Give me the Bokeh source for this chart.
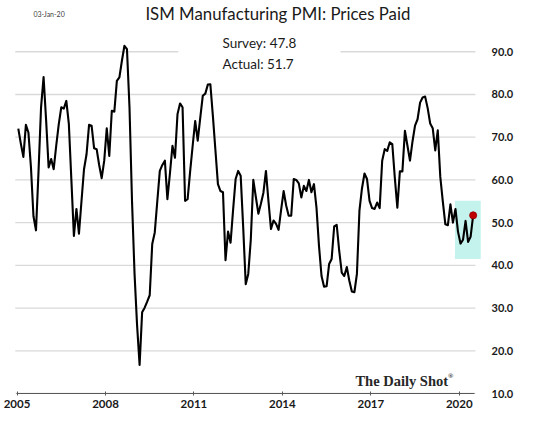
from bokeh.plotting import figure
from bokeh.models import ColumnDataSource, FixedTicker, NumeralTickFormatter, Label
from bokeh.embed import file_html
from bokeh.resources import INLINE

# ---------------- data ----------------
# ISM Manufacturing PMI: Prices Paid, monthly, Dec 2004 .. Dec 2019
first_month = "2004-12"
prices_paid = [
    72.0, 68.5, 65.4, 72.9, 71.1, 63.0, 51.5, 48.2, 62.0, 77.0,
    84.1, 74.0, 62.9, 64.9, 62.5, 68.0, 73.0, 77.0, 76.7, 78.5,
    73.1, 60.0, 46.9, 53.2, 47.4, 55.0, 62.5, 66.0, 72.9, 72.7,
    67.4, 67.2, 63.5, 60.4, 64.5, 72.1, 65.6, 76.2, 76.0, 83.2,
    84.0, 87.9, 91.4, 90.6, 77.0, 55.0, 38.0, 26.0, 16.7, 29.0,
    30.1, 31.5, 33.0, 45.0, 47.7, 55.0, 62.1, 63.5, 64.5, 55.5,
    61.5, 68.0, 65.2, 75.4, 77.9, 77.0, 55.1, 55.5, 62.0, 68.0,
    73.8, 69.2, 74.5, 79.7, 80.2, 82.3, 82.4, 75.0, 67.0, 59.0,
    57.4, 57.1, 41.2, 47.9, 45.3, 53.0, 60.2, 62.1, 61.0, 48.9,
    35.6, 38.0, 46.0, 60.0, 56.0, 52.1, 54.4, 57.0, 62.1, 55.0,
    48.5, 50.5, 49.7, 48.3, 53.0, 57.4, 54.0, 51.6, 51.6, 60.2,
    60.0, 59.2, 55.9, 58.6, 57.4, 60.0, 57.1, 59.0, 53.5, 44.5,
    37.5, 35.0, 35.1, 40.3, 41.5, 49.1, 49.5, 43.4, 38.3, 37.5,
    39.6, 36.4, 33.9, 33.7, 38.0, 52.8, 58.0, 61.5, 60.2, 55.1,
    53.4, 53.2, 54.7, 53.4, 64.5, 67.2, 66.8, 68.8, 68.4, 60.5,
    53.5, 62.0, 62.0, 71.5, 68.0, 64.5, 69.0, 72.7, 74.2, 78.1,
    79.3, 79.5, 76.8, 73.2, 72.1, 66.9, 71.6, 60.7, 54.9, 49.6,
    49.4, 54.3, 50.0, 53.2, 47.9, 45.1, 46.0, 50.4, 45.5, 46.7, 51.7,
]
x_tick_labels = ["2005", "2008", "2011", "2014", "2017", "2020"]
months_per_label = 35
y_ticks = [10, 20, 30, 40, 50, 60, 70, 80, 90]
survey_value = 47.8
actual_value = 51.7
highlight_low, highlight_high = 41.5, 55.1

months = list(range(len(prices_paid)))
last = len(prices_paid) - 1

FONT = "Lato"
Y_TOP = 102.0
GRID_LEFT, GRID_RIGHT = -1.2, last + 0.9

p = figure(
    frame_width=470, frame_height=393,
    x_range=(-2.3, 183.7), y_range=(10, Y_TOP),
    output_backend="svg", toolbar_location=None,
    y_axis_location="right",
    min_border_left=12, min_border_right=51, min_border_top=0, min_border_bottom=30,
)
p.outline_line_color = None
p.background_fill_color = "white"
p.border_fill_color = "white"
p.xgrid.grid_line_color = None
p.ygrid.grid_line_color = None

# horizontal grid lines (limited extent, as in the original)
gsrc = ColumnDataSource(dict(y=y_ticks, x0=[GRID_LEFT] * len(y_ticks), x1=[GRID_RIGHT] * len(y_ticks)))
p.segment(x0="x0", x1="x1", y0="y", y1="y", source=gsrc, line_color="#d9d9d9", line_width=1.3)

# right axis
ya = p.yaxis[0]
ya.ticker = FixedTicker(ticks=y_ticks)
ya.formatter = NumeralTickFormatter(format="0.0")
ya.axis_line_color = None
ya.major_tick_line_color = None
ya.minor_tick_line_color = None
ya.major_label_text_font = FONT
ya.major_label_text_font_style = "bold"
ya.major_label_text_font_size = "11px"
ya.major_label_text_color = "#1a1a1a"
ya.major_label_standoff = 3

# bottom axis
xa = p.xaxis[0]
tick_pos = [k * months_per_label - 0.5 for k in range(len(x_tick_labels))]
xa.ticker = FixedTicker(ticks=tick_pos)
xa.major_label_overrides = {t: lab for t, lab in zip(tick_pos, x_tick_labels)}
xa.bounds = (-0.6, last + 0.5)
xa.axis_line_color = "#595959"
xa.axis_line_width = 1
xa.major_tick_line_color = "#595959"
xa.major_tick_in = 2
xa.major_tick_out = 2
xa.minor_tick_line_color = None
xa.major_label_text_font = FONT
xa.major_label_text_font_style = "bold"
xa.major_label_text_font_size = "11.5px"
xa.major_label_text_color = "#1a1a1a"
xa.major_label_standoff = 4

# highlight box of recent months
hl = ColumnDataSource(dict(left=[last - 7.2], right=[last + 3], bottom=[highlight_low], top=[highlight_high]))
p.quad(left="left", right="right", bottom="bottom", top="top", source=hl,
       fill_color="#c4f3ee", line_color=None)

# white box behind the survey/actual text
wb = ColumnDataSource(dict(left=[63.3], right=[127.5], bottom=[84.4], top=[95.0]))
p.quad(left="left", right="right", bottom="bottom", top="top", source=wb,
       fill_color="white", line_color=None)

src = ColumnDataSource(dict(x=months, y=prices_paid))
p.line("x", "y", source=src, line_color="black", line_width=2.1, line_join="round")
p.scatter(x=[months[-1]], y=[prices_paid[-1]], size=7, fill_color="#c00000", line_color="#a00000")

# texts
p.add_layout(Label(x=50.3, y=98.9, text="ISM Manufacturing PMI: Prices Paid", text_align="left",
                   text_baseline="middle", text_font=FONT, text_font_size="16.8px", text_color="#1a1a1a"))
p.add_layout(Label(x=6.0, y=98.9, text="03-Jan-20", text_align="left", text_baseline="middle",
                   text_font=FONT, text_font_size="7px", text_color="#404040"))
p.add_layout(Label(x=80.8, y=92.1, text=f"Survey: {survey_value}", text_align="left", text_baseline="middle",
                   text_font=FONT, text_font_size="13.5px", text_color="#1a1a1a"))
p.add_layout(Label(x=80.8, y=87.2, text=f"Actual:  {actual_value}", text_align="left", text_baseline="middle",
                   text_font=FONT, text_font_size="13.5px", text_color="#1a1a1a"))
p.add_layout(Label(x=133.4, y=13.0, text="The Daily Shot", text_align="left", text_baseline="middle",
                   text_font="Liberation Serif", text_font_style="bold", text_font_size="14.5px",
                   text_color="#262626"))
p.add_layout(Label(x=170.0, y=14.2, text="\u00ae", text_align="left", text_baseline="middle",
                   text_font="Liberation Serif", text_font_style="bold", text_font_size="7px",
                   text_color="#262626"))

open("out.html", "w").write(file_html(p, INLINE))
